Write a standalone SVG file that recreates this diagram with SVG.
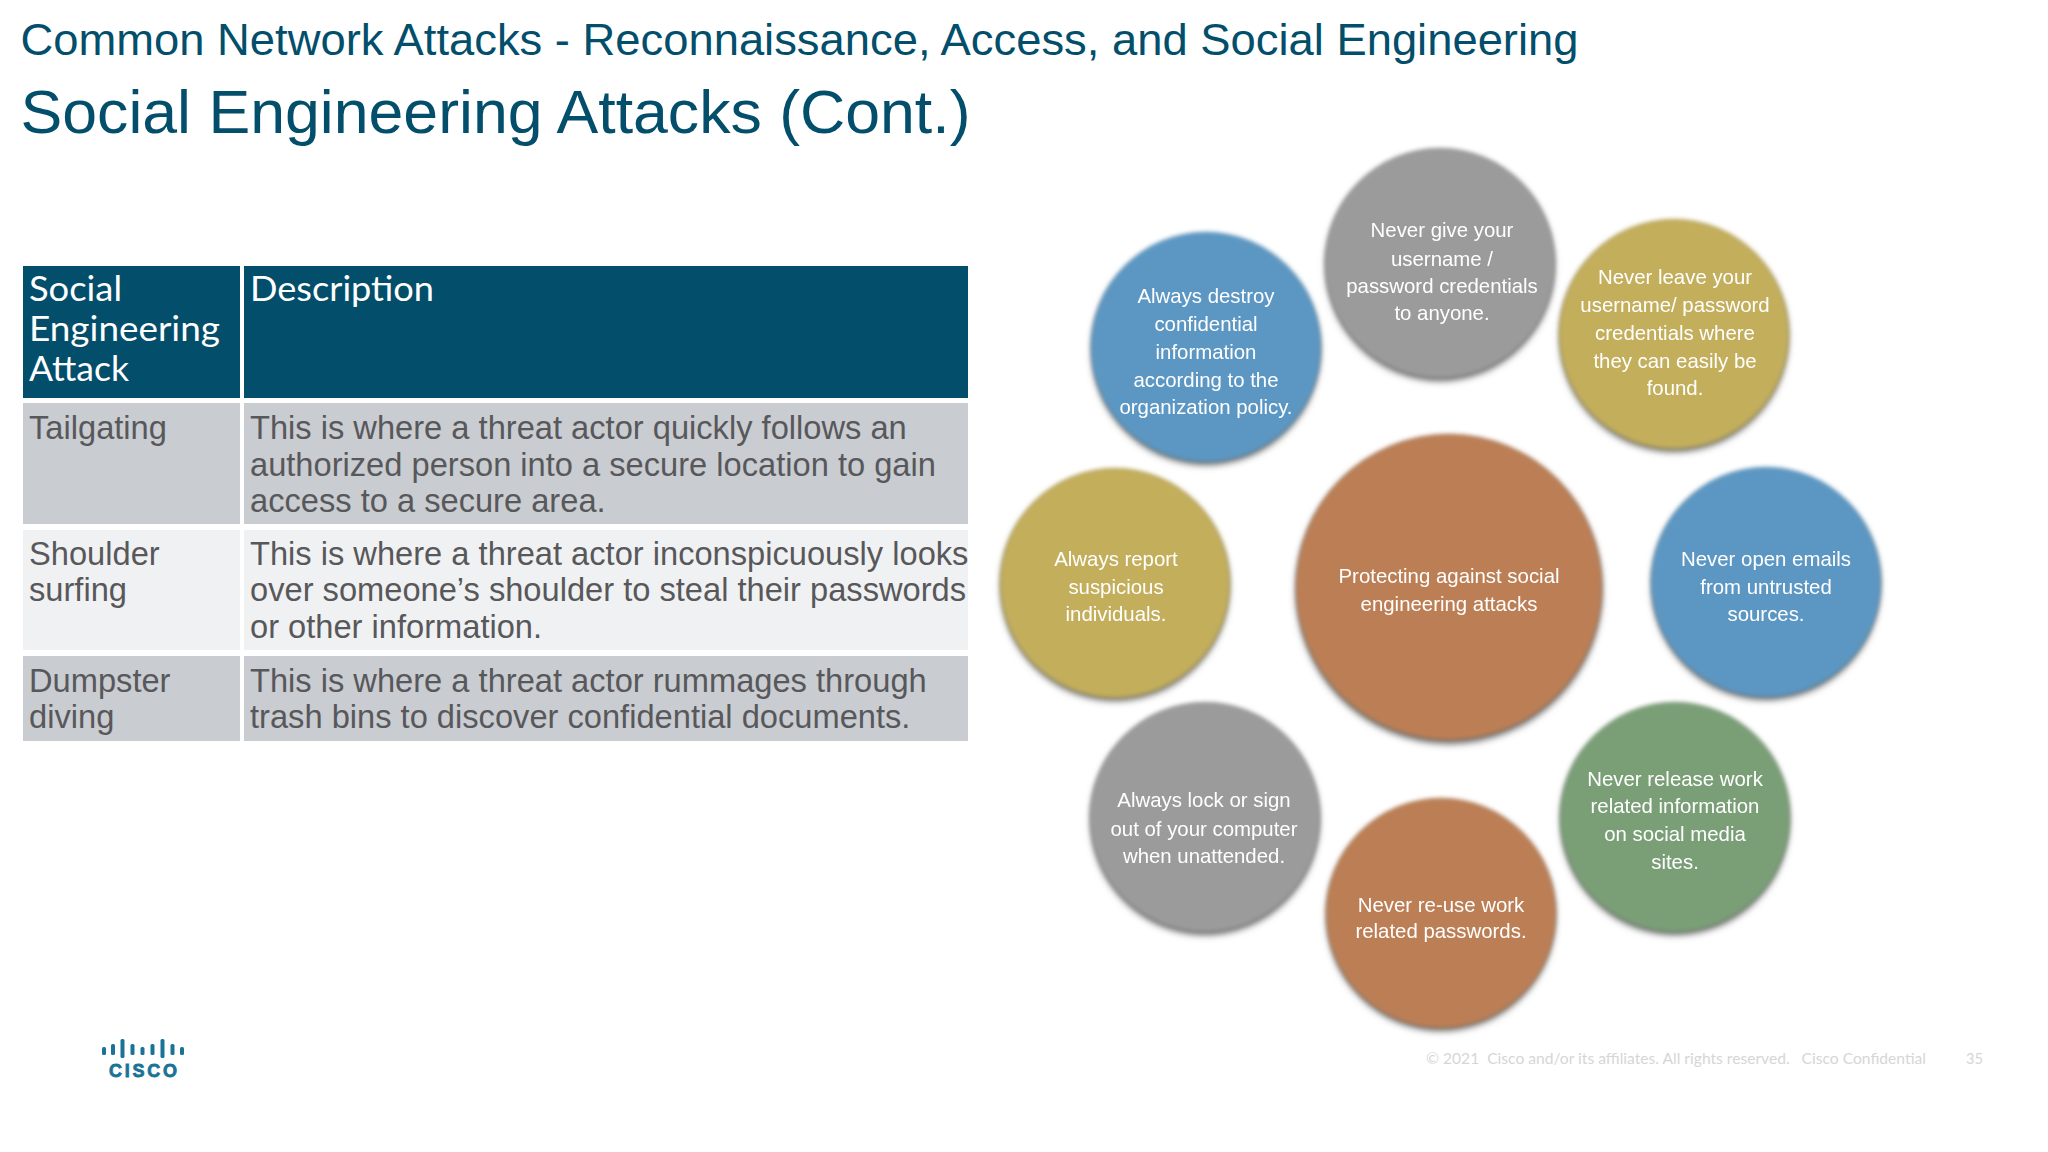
<svg xmlns="http://www.w3.org/2000/svg" width="2048" height="1152" viewBox="0 0 2048 1152">
<style>
.t{font-family:"Liberation Sans",Arial,sans-serif;fill:#024e6b}
.h{font-family:Lato,"Noto Sans",sans-serif;font-size:34px;fill:#fff}
.b{font-family:"Liberation Sans",Arial,sans-serif;font-size:32.65px;fill:#58585b}
.c{font-family:"Liberation Sans",Arial,sans-serif;font-size:20.4px;fill:#fff;text-anchor:middle;filter:url(#st)}
.f{font-family:Lato,"Noto Sans",sans-serif;font-size:15px;fill:#d6d6d6}
.s{fill:#6a6a6a;filter:url(#ss)}
.m{filter:url(#sm)}
.blue{fill:#5b97c3}.gray{fill:#9b9b9b}.yel{fill:#c3ae5b}.org{fill:#bc7f54}.grn{fill:#7a9f77}
.bar{fill:#1a7396}
</style>
<defs>
<filter id="ss" x="-20%" y="-20%" width="140%" height="140%"><feGaussianBlur stdDeviation="3.5"/></filter>
<filter id="sm" x="-10%" y="-10%" width="120%" height="120%"><feGaussianBlur stdDeviation="2.2"/></filter>
<filter id="st" x="-5%" y="-20%" width="110%" height="140%"><feGaussianBlur stdDeviation="0.5"/></filter>
</defs>
<rect width="2048" height="1152" fill="#fff"/>
<text id="title-top" class="t" x="20.500" y="55" font-size="45" textLength="1558" lengthAdjust="spacingAndGlyphs">Common Network Attacks - Reconnaissance, Access, and Social Engineering</text>
<text id="title-main" class="t" x="20.500" y="133" font-size="62" textLength="950" lengthAdjust="spacingAndGlyphs">Social Engineering Attacks (Cont.)</text>

<g id="table">
<rect x="23" y="266" width="217" height="132" fill="#024e6b"/>
<rect x="244" y="266" width="724" height="132" fill="#024e6b"/>
<rect x="23" y="403" width="217" height="121" fill="#c9ccd1"/>
<rect x="244" y="403" width="724" height="121" fill="#c9ccd1"/>
<rect x="23" y="530" width="217" height="120" fill="#f0f1f2"/>
<rect x="244" y="530" width="724" height="120" fill="#f0f1f2"/>
<rect x="23" y="656" width="217" height="85" fill="#c9ccd1"/>
<rect x="244" y="656" width="724" height="85" fill="#c9ccd1"/>
<text class="h" x="29" y="301" textLength="93" lengthAdjust="spacingAndGlyphs">Social</text>
<text class="h" x="29" y="341" textLength="191" lengthAdjust="spacingAndGlyphs">Engineering</text>
<text class="h" x="29" y="381" textLength="100" lengthAdjust="spacingAndGlyphs">Attack</text>
<text class="h" x="250" y="301" textLength="184" lengthAdjust="spacingAndGlyphs">Description</text>
<text class="b" x="29" y="439">Tailgating</text>
<text class="b" x="250" y="439">This is where a threat actor quickly follows an</text>
<text class="b" x="250" y="476">authorized person into a secure location to gain</text>
<text class="b" x="250" y="512">access to a secure area.</text>
<text class="b" x="29" y="565">Shoulder</text>
<text class="b" x="29" y="601">surfing</text>
<text class="b" x="250" y="565">This is where a threat actor inconspicuously looks</text>
<text class="b" x="250" y="601">over someone’s shoulder to steal their passwords</text>
<text class="b" x="250" y="638">or other information.</text>
<text class="b" x="29" y="692">Dumpster</text>
<text class="b" x="29" y="728">diving</text>
<text class="b" x="250" y="692">This is where a threat actor rummages through</text>
<text class="b" x="250" y="728">trash bins to discover confidential documents.</text>
</g>

<g id="node-center"><circle class="s" cx="1449" cy="591" r="153"/><circle class="m org" cx="1449" cy="587" r="153"/>
<text class="c" x="1449" y="583">Protecting against social</text><text class="c" x="1449" y="611">engineering attacks</text></g>
<g id="node-give"><circle class="s" cx="1440" cy="267" r="114"/><circle class="m gray" cx="1440" cy="263" r="115"/>
<text class="c" x="1442" y="237">Never give your</text><text class="c" x="1442" y="266">username /</text><text class="c" x="1442" y="293">password credentials</text><text class="c" x="1442" y="320">to anyone.</text></g>
<g id="node-destroy"><circle class="s" cx="1206" cy="351" r="114"/><circle class="m blue" cx="1206" cy="347" r="115"/>
<text class="c" x="1206" y="303">Always destroy</text><text class="c" x="1206" y="331">confidential</text><text class="c" x="1206" y="359">information</text><text class="c" x="1206" y="387">according to the</text><text class="c" x="1206" y="414">organization policy.</text></g>
<g id="node-leave"><circle class="s" cx="1674" cy="338" r="114"/><circle class="m yel" cx="1674" cy="334" r="115"/>
<text class="c" x="1675" y="284">Never leave your</text><text class="c" x="1675" y="312">username/ password</text><text class="c" x="1675" y="340">credentials where</text><text class="c" x="1675" y="368">they can easily be</text><text class="c" x="1675" y="395">found.</text></g>
<g id="node-report"><circle class="s" cx="1115" cy="587" r="114"/><circle class="m yel" cx="1115" cy="583" r="115"/>
<text class="c" x="1116" y="566">Always report</text><text class="c" x="1116" y="594">suspicious</text><text class="c" x="1116" y="621">individuals.</text></g>
<g id="node-emails"><circle class="s" cx="1766" cy="586" r="114"/><circle class="m blue" cx="1766" cy="582" r="115"/>
<text class="c" x="1766" y="566">Never open emails</text><text class="c" x="1766" y="594">from untrusted</text><text class="c" x="1766" y="621">sources.</text></g>
<g id="node-lock"><circle class="s" cx="1205" cy="821" r="114"/><circle class="m gray" cx="1205" cy="817" r="115"/>
<text class="c" x="1204" y="807">Always lock or sign</text><text class="c" x="1204" y="836">out of your computer</text><text class="c" x="1204" y="863">when unattended.</text></g>
<g id="node-release"><circle class="s" cx="1675" cy="821" r="114"/><circle class="m grn" cx="1675" cy="817" r="115"/>
<text class="c" x="1675" y="786">Never release work</text><text class="c" x="1675" y="813">related information</text><text class="c" x="1675" y="841">on social media</text><text class="c" x="1675" y="869">sites.</text></g>
<g id="node-reuse"><circle class="s" cx="1441" cy="917" r="114"/><circle class="m org" cx="1441" cy="913" r="115"/>
<text class="c" x="1441" y="912">Never re-use work</text><text class="c" x="1441" y="938">related passwords.</text></g>

<g id="logo">
<rect class="bar" x="102" y="1047" width="4" height="8" rx="1.500"/>
<rect class="bar" x="111" y="1044" width="4" height="11" rx="1.500"/>
<rect class="bar" x="120.500" y="1039" width="4" height="19" rx="1.500"/>
<rect class="bar" x="130.500" y="1044" width="4" height="11" rx="1.500"/>
<rect class="bar" x="140.500" y="1047" width="4" height="8" rx="1.500"/>
<rect class="bar" x="150.500" y="1044" width="4" height="11" rx="1.500"/>
<rect class="bar" x="160.500" y="1039" width="4" height="19" rx="1.500"/>
<rect class="bar" x="170.500" y="1044" width="4" height="11" rx="1.500"/>
<rect class="bar" x="180" y="1047" width="4" height="8" rx="1.500"/>
<text x="109" y="1077" font-family="Liberation Sans, Arial, sans-serif" font-weight="700" font-size="18" fill="#1a7396" stroke="#1a7396" stroke-width="0.8" textLength="68" lengthAdjust="spacing">CISCO</text>
</g>
<g id="footer">
<text class="f" x="1426" y="1064" textLength="500" lengthAdjust="spacingAndGlyphs" xml:space="preserve">© 2021  Cisco and/or its affiliates. All rights reserved.   Cisco Confidential</text>
<text class="f" x="1966" y="1064" textLength="17" lengthAdjust="spacingAndGlyphs">35</text>
</g>
</svg>
